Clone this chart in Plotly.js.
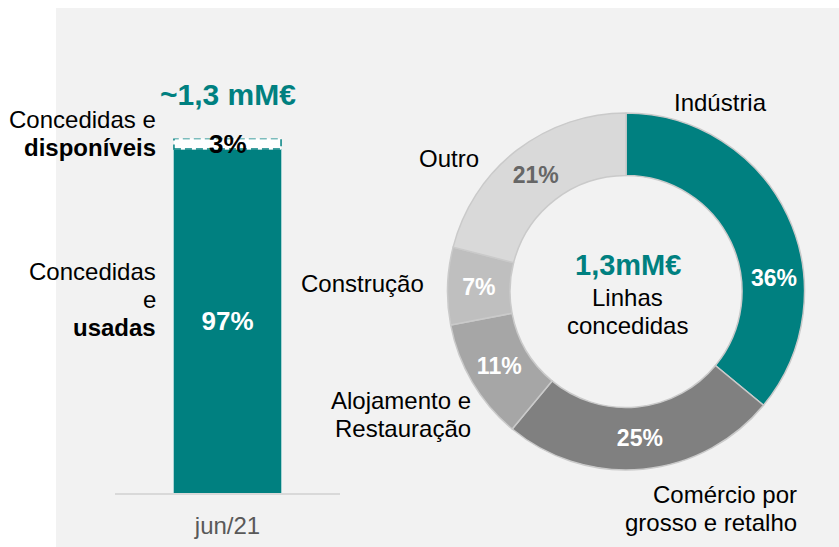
<!DOCTYPE html>
<html>
<head>
<meta charset="utf-8">
<script src="https://cdn.plot.ly/plotly-3.0.1.min.js"></script>
<style>html,body{margin:0;padding:0;background:#fff}#chart{width:839px;height:547px}</style>
</head>
<body>
<div id="chart"></div>
<script>
// ---- data ----
const barCategories = ['jun/21'];
const usedPct = [97];
const availablePct = [3];
const barTotalLabel = '~1,3 mM€';
const usedLabelLines = ['Concedidas', 'e', '<b>usadas</b>'];
const availLabelLines = ['Concedidas e', '<b>disponíveis</b>'];

const sectors = ['Indústria', 'Comércio por<br>grosso e retalho', 'Alojamento e<br>Restauração', 'Construção', 'Outro'];
const sectorPct = [36, 25, 11, 7, 21];
const centerTitle = '1,3mM€';
const centerSubLines = ['Linhas', 'concedidas'];

// ---- style ----
const W = 839, H = 547;
const px = x => x / W, py = y => 1 - y / H;
const TEAL = '#008080';
const FONT = 'Liberation Sans, Arial, sans-serif';
const sliceColors = [TEAL, '#808080', '#a6a6a6', '#bfbfbf', '#d9d9d9'];
const sliceTextColors = ['#ffffff', '#ffffff', '#ffffff', '#ffffff', '#666666'];
const barWidth = 0.476;

const traces = [
  {
    type: 'bar', x: barCategories, y: usedPct,
    marker: {color: TEAL, line: {color: '#a9d4d4', width: 1}},
    width: barWidth,
    text: usedPct.map(v => v + '%'), textposition: 'inside', insidetextanchor: 'middle',
    textfont: {family: FONT, size: 26, color: '#ffffff', weight: 'bold'},
    hoverinfo: 'skip'
  },
  {
    type: 'bar', x: barCategories, y: availablePct,
    marker: {color: '#ffffff', line: {width: 0}},
    width: barWidth, hoverinfo: 'skip'
  },
  {
    type: 'pie', labels: sectors, values: sectorPct, sort: false, direction: 'clockwise', rotation: 0,
    hole: 0.65,
    domain: {x: [px(447.5), px(804.5)], y: [py(470), py(113)]},
    marker: {colors: sliceColors, line: {color: '#cacaca', width: 1.5}},
    text: sectorPct.map((v, i) => i === 0 ? '' : v + '%'),
    textinfo: 'text', textposition: 'inside', insidetextorientation: 'horizontal',
    textfont: {family: FONT, size: 23, color: sliceTextColors, weight: 'bold'},
    showlegend: false, hoverinfo: 'label+percent'
  }
];

const annotations = [];
function addLines(lines, x, yStart, step, anchor, size, color, extra) {
  lines.forEach((t, i) => annotations.push(Object.assign({
    xref: 'paper', yref: 'paper', x: px(x), y: py(yStart + i * step),
    xanchor: anchor, yanchor: 'middle', showarrow: false, text: t,
    font: {family: FONT, size: size, color: color}
  }, extra || {})));
}
// bar labels
addLines(availLabelLines, 158, 120, 27.5, 'right', 24, '#000');
addLines(usedLabelLines, 158, 271, 28, 'right', 24, '#000');
annotations.push({xref: 'x', yref: 'paper', x: 0, y: py(94.5), text: '<b>' + barTotalLabel + '</b>',
  showarrow: false, xanchor: 'center', yanchor: 'middle', font: {family: FONT, size: 30, color: TEAL}});
annotations.push({xref: 'x', yref: 'y', x: 0, y: usedPct[0] + availablePct[0] / 2, text: '<b>' + availablePct[0] + '%</b>',
  showarrow: false, xanchor: 'center', yanchor: 'middle', font: {family: FONT, size: 26, color: '#000'}});
// pie sector labels
const sectorLabelPos = [
  {x: 720, y: 102, a: 'center'},
  {x: 799, y: 494, a: 'right'},
  {x: 473, y: 400, a: 'right'},
  {x: 426, y: 284, a: 'right'},
  {x: 481, y: 158, a: 'right'}
];
sectors.forEach((s, i) => {
  const p = sectorLabelPos[i];
  const lines = s.split('<br>');
  addLines(lines, p.x, p.y, 28, p.a, 24, '#000', {align: p.a === 'right' ? 'right' : 'center'});
});
// Indústria share label
annotations.push({xref: 'paper', yref: 'paper', x: px(774), y: py(278), text: '<b>' + sectorPct[0] + '%</b>',
  showarrow: false, xanchor: 'center', yanchor: 'middle', font: {family: FONT, size: 23, color: '#fff'}});
// center texts
annotations.push({xref: 'paper', yref: 'paper', x: px(628), y: py(265), text: '<b>' + centerTitle + '</b>',
  showarrow: false, xanchor: 'center', yanchor: 'middle', font: {family: FONT, size: 29, color: TEAL}});
addLines(centerSubLines, 627, 297, 28.5, 'center', 24, '#000');

const layout = {
  width: W, height: H, margin: {l: 0, r: 0, t: 0, b: 0},
  paper_bgcolor: '#ffffff', plot_bgcolor: 'rgba(0,0,0,0)',
  barmode: 'stack', showlegend: false,
  font: {family: FONT},
  xaxis: {domain: [px(115), px(340)], range: [-0.5, 0.5], showline: true, linecolor: '#d9d9d9', linewidth: 2,
    ticks: '', showgrid: false, zeroline: false, fixedrange: true,
    tickfont: {family: FONT, size: 24, color: '#595959'}, ticklabelstandoff: 10},
  yaxis: {domain: [py(493), py(138.4)], range: [0, 100], visible: false, showgrid: false, zeroline: false, fixedrange: true},
  shapes: [
    {type: 'rect', xref: 'paper', yref: 'paper', x0: px(56), x1: 1, y0: 0, y1: py(8), fillcolor: '#f2f2f2', line: {width: 0}, layer: 'below'},
    {type: 'rect', xref: 'x', yref: 'y', x0: -barWidth / 2, x1: barWidth / 2, y0: usedPct[0], y1: usedPct[0] + availablePct[0],
      line: {color: TEAL, width: 1.5, dash: '7px,4px'}, fillcolor: 'rgba(0,0,0,0)', layer: 'above'}
  ],
  annotations: annotations
};

Plotly.newPlot('chart', traces, layout, {displayModeBar: false, staticPlot: true});
</script>
</body>
</html>
